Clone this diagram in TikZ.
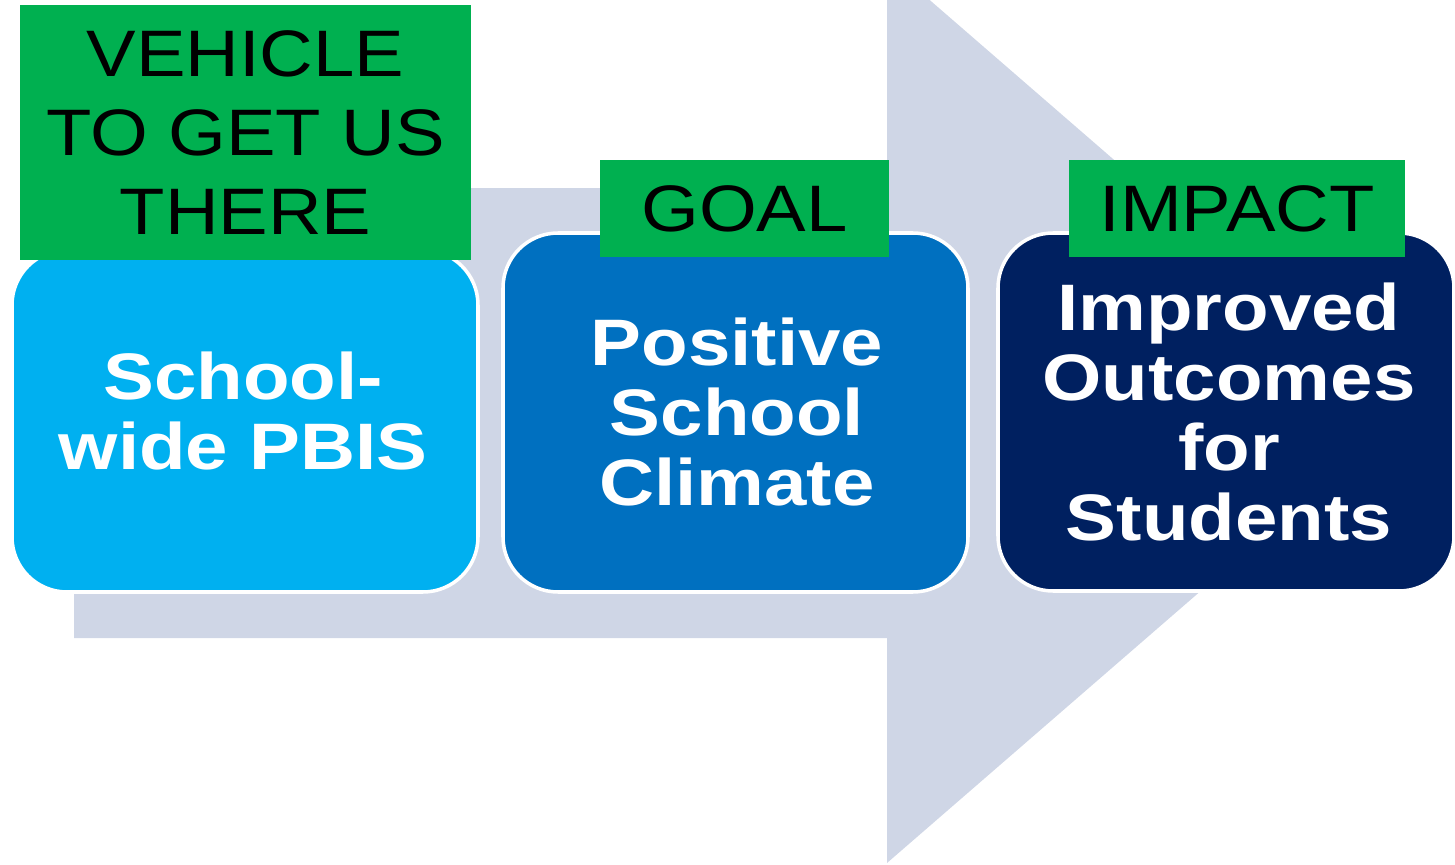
\documentclass[tikz,border=0pt]{standalone}
\usepackage{fontspec}
\setmainfont{Liberation Sans}
\newfontfamily\tagfont{Liberation Sans}[FakeStretch=1.13]
\newfontfamily\stagefont{Liberation Sans}[FakeStretch=1.16]

\definecolor{arrowgray}{RGB}{207,214,230}
\definecolor{taggreen}{RGB}{0,176,80}
\definecolor{pbisblue}{RGB}{0,176,240}
\definecolor{climateblue}{RGB}{0,112,192}
\definecolor{outcomenavy}{RGB}{0,32,96}

\tikzset{
    stagebox/.style={draw=white, line width=1pt, rounded corners=5.5mm, inner sep=0pt},
    stagetext/.style={text=white, align=center, inner sep=0pt,
        font=\stagefont\bfseries\fontsize{18.7}{19.9}\selectfont},
    tagbox/.style={fill=taggreen, align=center, inner sep=0pt,
        font=\tagfont\fontsize{18.7}{22.5}\selectfont}
}

\begin{document}
\begin{tikzpicture}[x=0.1mm, y=-0.1mm]
            %\draw[lightgray] (0, 0) grid[step=100] (1455, 865);
            \useasboundingbox (0, 0) rectangle (1455, 865);
            \clip (0, 0) rectangle (1455, 865);
            % the big arrow behind everything
            \fill[arrowgray] (74, 188) -- (887, 188) -- (887, -37) -- (1406, 413)
                -- (887, 863) -- (887, 638) -- (74, 638) -- cycle;
            % the three stages
            \node[stagebox, fill=pbisblue, minimum width=46.6mm, minimum height=34.2mm] (pbis) at (245, 421) {};
            \node[stagebox, fill=climateblue, minimum width=46.5mm, minimum height=35.9mm] (climate) at (735.5, 412.5) {};
            \node[stagebox, fill=outcomenavy, minimum width=45.6mm, minimum height=35.8mm] (outcomes) at (1226, 412) {};
            \node[stagetext] (pbistext) at (243, 411) {School-\\wide PBIS};
            \node[stagetext] (climatetext) at (737, 412) {Positive\\School\\Climate};
            \node[stagetext] (outcomestext) at (1229, 412) {Improved\\Outcomes\\for\\Students};
            % green tags on top
            \node[tagbox, minimum width=45.1mm, minimum height=25.5mm] (vehicle) at (245.5, 132.5) {VEHICLE\\TO GET US\\THERE};
            \node[tagbox, minimum width=28.9mm, minimum height=9.7mm] (goal) at (744.5, 208.5) {GOAL};
            \node[tagbox, minimum width=33.6mm, minimum height=9.7mm] (impact) at (1237, 208.5) {IMPACT};
\end{tikzpicture}
\end{document}
